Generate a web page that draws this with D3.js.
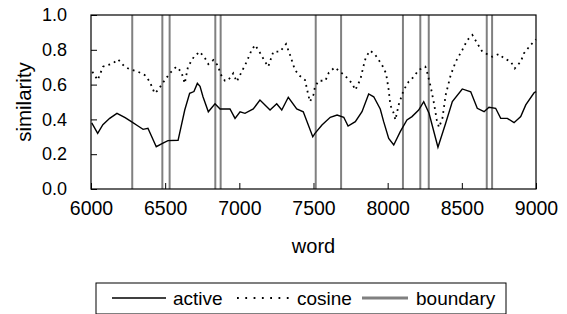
<!DOCTYPE html>
<html>
<head>
<meta charset="utf-8">
<script src="https://cdn.jsdelivr.net/npm/d3@7"></script>
<style>
    body { margin: 0; background: #fff; }
    text { font-family: "Liberation Sans", Arial, sans-serif; fill: #000; }
</style>
</head>
<body>
<div id="chart"></div>
<script>
// Data
const activeWord = [6005, 6045, 6080, 6126, 6175, 6230, 6272, 6317, 6351, 6384, 6440, 6485, 6519, 6587, 6632, 6665, 6694, 6717, 6735, 6755, 6791, 6836, 6870, 6937, 6971, 7005, 7038, 7094, 7139, 7207, 7252, 7286, 7330, 7387, 7431, 7495, 7510, 7557, 7613, 7659, 7704, 7733, 7782, 7827, 7872, 7906, 7950, 7973, 8007, 8041, 8085, 8130, 8164, 8209, 8243, 8279, 8339, 8391, 8436, 8503, 8560, 8604, 8650, 8683, 8728, 8762, 8807, 8852, 8897, 8931, 8987, 9000];
const activeSim = [0.38, 0.32, 0.37, 0.406, 0.435, 0.41, 0.387, 0.362, 0.343, 0.349, 0.243, 0.263, 0.278, 0.28, 0.454, 0.55, 0.56, 0.607, 0.59, 0.53, 0.444, 0.49, 0.46, 0.46, 0.406, 0.444, 0.435, 0.46, 0.511, 0.454, 0.49, 0.454, 0.527, 0.46, 0.444, 0.30, 0.32, 0.368, 0.412, 0.425, 0.412, 0.362, 0.387, 0.444, 0.546, 0.53, 0.46, 0.387, 0.291, 0.253, 0.33, 0.397, 0.416, 0.454, 0.502, 0.435, 0.24, 0.378, 0.502, 0.575, 0.559, 0.464, 0.444, 0.47, 0.464, 0.406, 0.406, 0.381, 0.416, 0.483, 0.553, 0.56];

const cosineWord = [6009, 6045, 6081, 6148, 6182, 6227, 6261, 6317, 6362, 6396, 6429, 6452, 6485, 6531, 6575, 6609, 6632, 6654, 6694, 6733, 6769, 6791, 6825, 6858, 6870, 6903, 6926, 6959, 6982, 7016, 7050, 7083, 7106, 7139, 7173, 7195, 7229, 7274, 7315, 7342, 7375, 7409, 7443, 7465, 7476, 7499, 7510, 7535, 7580, 7603, 7643, 7715, 7760, 7782, 7816, 7839, 7854, 7883, 7917, 7962, 7989, 8007, 8018, 8041, 8052, 8074, 8108, 8142, 8176, 8209, 8254, 8267, 8290, 8312, 8331, 8346, 8369, 8391, 8425, 8459, 8503, 8537, 8571, 8604, 8638, 8705, 8751, 8784, 8830, 8857, 8897, 8919, 8964, 9000];
const cosineSim = [0.674, 0.626, 0.703, 0.722, 0.745, 0.703, 0.688, 0.674, 0.655, 0.617, 0.55, 0.569, 0.611, 0.665, 0.703, 0.674, 0.607, 0.703, 0.76, 0.789, 0.751, 0.718, 0.741, 0.707, 0.665, 0.622, 0.626, 0.665, 0.617, 0.674, 0.732, 0.799, 0.828, 0.783, 0.732, 0.703, 0.789, 0.789, 0.833, 0.77, 0.684, 0.649, 0.626, 0.54, 0.502, 0.54, 0.588, 0.622, 0.622, 0.668, 0.699, 0.649, 0.607, 0.569, 0.63, 0.713, 0.76, 0.795, 0.77, 0.713, 0.665, 0.569, 0.483, 0.435, 0.397, 0.483, 0.569, 0.617, 0.645, 0.684, 0.703, 0.668, 0.588, 0.493, 0.397, 0.354, 0.406, 0.54, 0.655, 0.732, 0.799, 0.856, 0.885, 0.837, 0.789, 0.76, 0.776, 0.751, 0.732, 0.693, 0.732, 0.78, 0.828, 0.86];

const boundaries = [6278, 6481, 6530, 6838, 6874, 7515, 7686, 8103, 8220, 8277, 8668, 8704];

const xTicks = [6000, 6500, 7000, 7500, 8000, 8500, 9000];
const yTicks = [0, 0.2, 0.4, 0.6, 0.8, 1.0];
const legendNames = ["active", "cosine", "boundary"];

// Setting the size and margins of the SVG area
const margin = { top: 15, right: 31, bottom: 125, left: 91 },
    width = 567 - margin.left - margin.right,
    height = 314 - margin.top - margin.bottom;

const svg = d3.select("#chart")
    .append("svg")
    .attr("width", 567)
    .attr("height", 314)
    .append("g")
    .attr("transform", "translate(" + margin.left + "," + margin.top + ")");

// Scales
const x = d3.scaleLinear().domain([6000, 9000]).range([0, width]);
const y = d3.scaleLinear().domain([0, 1]).range([height, 0]);

// Axes with ticks pointing inside
const xAxis = d3.axisBottom(x).tickValues(xTicks).tickFormat(d3.format("d")).tickSize(-6).tickPadding(12);
const yAxis = d3.axisLeft(y).tickValues(yTicks).tickFormat(d3.format(".1f")).tickSize(-6).tickPadding(24);

const gx = svg.append("g")
    .attr("transform", "translate(0," + height + ")")
    .call(xAxis);
gx.select(".domain").remove();
gx.selectAll("text").style("font-size", "19.5px").attr("font-family", null);
gx.selectAll("line").attr("stroke", "#000");

const gy = svg.append("g").call(yAxis);
gy.select(".domain").remove();
gy.selectAll("text").style("font-size", "18px").attr("font-family", null);
gy.selectAll("line").attr("stroke", "#000");

// Boundary lines
svg.selectAll(".boundary")
    .data(boundaries)
    .enter().append("line")
    .attr("class", "boundary")
    .attr("x1", d => x(d))
    .attr("x2", d => x(d))
    .attr("y1", 0)
    .attr("y2", height)
    .attr("stroke", "#808080")
    .attr("stroke-width", 2);

// Active line (solid)
const line = d3.line()
    .x(d => x(d[0]))
    .y(d => y(d[1]));

svg.append("path")
    .datum(d3.zip(activeWord, activeSim))
    .attr("fill", "none")
    .attr("stroke", "#000")
    .attr("stroke-width", 1.4)
    .attr("d", line);

// Cosine line (dotted)
svg.append("path")
    .datum(d3.zip(cosineWord, cosineSim))
    .attr("fill", "none")
    .attr("stroke", "#000")
    .attr("stroke-width", 1.8)
    .attr("stroke-dasharray", "1.8,4.2")
    .attr("d", line);

// Plot frame
svg.append("rect")
    .attr("width", width)
    .attr("height", height)
    .attr("fill", "none")
    .attr("stroke", "#000")
    .attr("stroke-width", 1.2);

// Axis labels
svg.append("text")
    .attr("x", width / 2)
    .attr("y", height + 64)
    .attr("text-anchor", "middle")
    .style("font-size", "20px")
    .text("word");

svg.append("text")
    .attr("transform", "rotate(-90)")
    .attr("x", -height / 2)
    .attr("y", -60)
    .attr("text-anchor", "middle")
    .style("font-size", "20.5px")
    .text("similarity");

// Legend
const legend = svg.append("g")
    .attr("transform", "translate(" + (96 - margin.left) + "," + (283 - margin.top) + ")");

legend.append("rect")
    .attr("width", 410)
    .attr("height", 31)
    .attr("fill", "#fff")
    .attr("stroke", "#000")
    .attr("stroke-width", 1);

const legendItems = [
    { x1: 16, x2: 70, tx: 77, stroke: "#000", w: 1.4, dash: null },
    { x1: 141, x2: 193, tx: 201, stroke: "#000", w: 1.8, dash: "1.8,6.5" },
    { x1: 266, x2: 312, tx: 320, stroke: "#808080", w: 3, dash: null }
];

legendItems.forEach((d, i) => {
    legend.append("line")
        .attr("x1", d.x1)
        .attr("x2", d.x2)
        .attr("y1", 15)
        .attr("y2", 15)
        .attr("stroke", d.stroke)
        .attr("stroke-width", d.w)
        .attr("stroke-dasharray", d.dash);
    legend.append("text")
        .attr("x", d.tx)
        .attr("y", 22)
        .style("font-size", "19px")
        .text(legendNames[i]);
});
</script>
</body>
</html>
